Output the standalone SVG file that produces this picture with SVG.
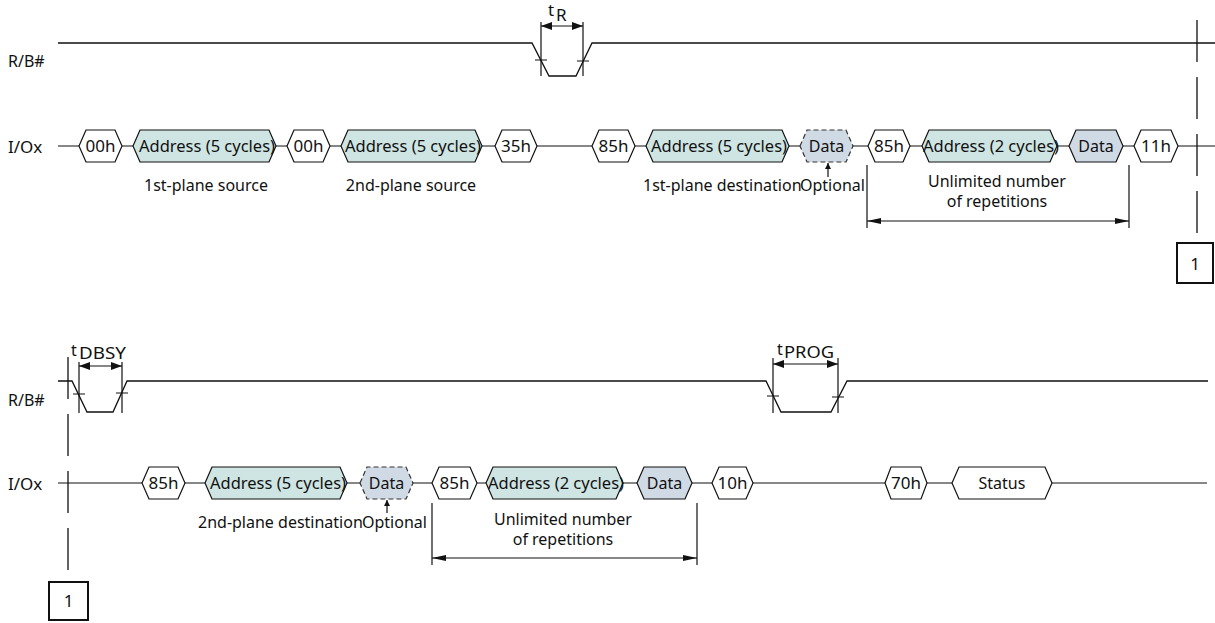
<svg xmlns="http://www.w3.org/2000/svg" width="1215" height="623" viewBox="0 0 1215 623">
<style>
  text{font-family:"Noto Sans","Open Sans","DejaVu Sans",sans-serif;font-size:16px;fill:#111}
  .c{text-anchor:middle}
  .h{font-size:17px}
  .a{font-size:16.5px}
  .w{stroke:#111;stroke-width:1.3;fill:none}
  .hx{stroke:#111;stroke-width:1.2;fill:#fff}
  .ad{stroke:#111;stroke-width:1.2;fill:#cfe5e3}
  .dt{stroke:#111;stroke-width:1.2;fill:#cfdae5}
  .dd{stroke:#333;stroke-width:1.2;fill:#cfdae5;stroke-dasharray:5 3}
  .ln{stroke:#111;stroke-width:1.2;fill:none}
  .dash{stroke:#111;stroke-width:1.3;fill:none;stroke-dasharray:42 15}
  .box{stroke:#111;stroke-width:2;fill:#fff}
</style>
<defs>
  <marker id="ta" viewBox="0 0 11 8" refX="11" refY="4" markerWidth="11" markerHeight="8" markerUnits="userSpaceOnUse" orient="auto-start-reverse"><path d="M0,0 L11,4 L0,8 z" fill="#111"/></marker>
  <marker id="ra" viewBox="0 0 14 6" refX="14" refY="3" markerWidth="14" markerHeight="6" markerUnits="userSpaceOnUse" orient="auto-start-reverse"><path d="M0,0 L14,3 L0,6 z" fill="#111"/></marker>
  <marker id="oa" viewBox="0 0 6 7" refX="6" refY="3" markerWidth="6" markerHeight="7" markerUnits="userSpaceOnUse" orient="auto"><path d="M0,0 L6,3 L0,6 z" fill="#111"/></marker>
</defs>

<!-- signal labels -->
<text x="8" y="67">R/B#</text>
<text x="8" y="153" class="h">I/Ox</text>
<text x="8" y="406">R/B#</text>
<text x="8" y="490" class="h">I/Ox</text>

<g id="connectors">
  <!-- waveforms -->
  <path class="w" d="M58,43 H532 L549,76 H576 L592,43 H1215"/>
  <path class="w" d="M58,381 H72 L87,412 H113 L127,381 H766 L781,412 H831 L847,381 H1208"/>
  <!-- top I/O bus segments -->
  <path class="ln" d="M58,146 H79 M122,146 H133 M276,146 H287 M330,146 H341 M482,146 H495 M537,146 H592 M635,146 H646 M789,146 H800 M853,146 H868 M910,146 H922 M1057,146 H1069 M1123,146 H1134 M1178,146 H1215"/>
  <!-- bottom I/O bus segments -->
  <path class="ln" d="M58,483 H142 M185,483 H205 M347,483 H360 M413,483 H432 M477,483 H486 M623,483 H637 M692,483 H712 M753,483 H885 M927,483 H952 M1052,483 H1207"/>
  <!-- tR -->
  <path class="ln" d="M541,22 V76 M583,22 V76 M535,60 H547 M577,61 H589"/>
  <line class="ln" x1="541" y1="26" x2="583" y2="26" marker-start="url(#ta)" marker-end="url(#ta)"/>
  <!-- tDBSY -->
  <path class="ln" d="M79,362 V413 M122,362 V413 M73,394 H85 M116,393 H128"/>
  <line class="ln" x1="79" y1="366" x2="122" y2="366" marker-start="url(#ta)" marker-end="url(#ta)"/>
  <!-- tPROG -->
  <path class="ln" d="M773,358 V413 M838,358 V413 M767,396 H779 M832,397 H844"/>
  <line class="ln" x1="773" y1="364" x2="838" y2="364" marker-start="url(#ta)" marker-end="url(#ta)"/>
  <!-- repetition brackets -->
  <path class="ln" d="M867,165 V228 M1129,165 V228"/>
  <line class="ln" x1="867" y1="221" x2="1129" y2="221" marker-start="url(#ra)" marker-end="url(#ra)"/>
  <path class="ln" d="M432,503 V565 M697,503 V565"/>
  <line class="ln" x1="432" y1="558" x2="697" y2="558" marker-start="url(#ra)" marker-end="url(#ra)"/>
  <!-- optional arrows -->
  <line class="ln" x1="828" y1="177" x2="828" y2="163" marker-end="url(#oa)"/>
  <line class="ln" x1="387" y1="513" x2="387" y2="500" marker-end="url(#oa)"/>
  <!-- page connectors -->
  <line class="dash" x1="1197" y1="20" x2="1197" y2="236"/>
  <line class="dash" x1="68" y1="357" x2="68" y2="573"/>
</g>

<!-- timing labels -->
<g id="tR"><text x="548" y="16" class="h">t</text><text x="556" y="21" class="h">R</text></g>
<g id="tDBSY"><text x="71" y="356">t</text><text x="79" y="359" textLength="47" lengthAdjust="spacingAndGlyphs" class="h">DBSY</text></g>
<g id="tPROG"><text x="777" y="355">t</text><text x="784" y="358" textLength="50" lengthAdjust="spacingAndGlyphs" class="h">PROG</text></g>

<!-- top row nodes -->
<g id="t00h1"><polygon class="hx" points="79,146 86,130 115,130 122,146 115,162 86,162"/><text class="c h" x="100.5" y="152">00h</text></g>
<g id="taddr1"><polygon class="ad" points="133,146 140,130 269,130 276,146 269,162 140,162"/><text class="c a" x="207" y="152">Address (5 cycles)</text></g>
<g id="t00h2"><polygon class="hx" points="287,146 294,130 323,130 330,146 323,162 294,162"/><text class="c h" x="308.5" y="152">00h</text></g>
<g id="taddr2"><polygon class="ad" points="341,146 348,130 475,130 482,146 475,162 348,162"/><text class="c a" x="413" y="152">Address (5 cycles)</text></g>
<g id="t35h"><polygon class="hx" points="495,146 502,130 530,130 537,146 530,162 502,162"/><text class="c h" x="516" y="152">35h</text></g>
<g id="t85h1"><polygon class="hx" points="592,146 599,130 628,130 635,146 628,162 599,162"/><text class="c h" x="613.5" y="152">85h</text></g>
<g id="taddr3"><polygon class="ad" points="646,146 653,130 782,130 789,146 782,162 653,162"/><text class="c a" x="719" y="152">Address (5 cycles)</text></g>
<g id="tdata1"><polygon class="dd" points="800,146 807,130 846,130 853,146 846,162 807,162"/><text class="c" x="826.5" y="152">Data</text></g>
<g id="t85h2"><polygon class="hx" points="868,146 875,130 903,130 910,146 903,162 875,162"/><text class="c h" x="889" y="152">85h</text></g>
<g id="taddr4"><polygon class="ad" points="922,146 929,130 1050,130 1057,146 1050,162 929,162"/><text class="c a" x="991" y="152">Address (2 cycles)</text></g>
<g id="tdata2"><polygon class="dt" points="1069,146 1076,130 1116,130 1123,146 1116,162 1076,162"/><text class="c" x="1096" y="152">Data</text></g>
<g id="t11h"><polygon class="hx" points="1134,146 1141,130 1171,130 1178,146 1171,162 1141,162"/><text class="c h" x="1156" y="152">11h</text></g>

<!-- top row annotations -->
<text class="c" x="206" y="191">1st-plane source</text>
<text class="c" x="411" y="191">2nd-plane source</text>
<text x="643" y="191">1st-plane destination</text>
<text x="800" y="191">Optional</text>
<text class="c" x="997" y="187">Unlimited number</text>
<text class="c" x="997" y="207">of repetitions</text>
<g id="box1top"><rect class="box" x="1177" y="243" width="36" height="40"/><text class="c h" x="1195" y="270">1</text></g>

<!-- bottom row nodes -->
<g id="b85h1"><polygon class="hx" points="142,483 149,467 178,467 185,483 178,499 149,499"/><text class="c h" x="163.5" y="489">85h</text></g>
<g id="baddr1"><polygon class="ad" points="205,483 212,467 340,467 347,483 340,499 212,499"/><text class="c a" x="278" y="489">Address (5 cycles)</text></g>
<g id="bdata1"><polygon class="dd" points="360,483 367,467 406,467 413,483 406,499 367,499"/><text class="c" x="386.5" y="489">Data</text></g>
<g id="b85h2"><polygon class="hx" points="432,483 439,467 470,467 477,483 470,499 439,499"/><text class="c h" x="454.5" y="489">85h</text></g>
<g id="baddr2"><polygon class="ad" points="486,483 493,467 616,467 623,483 616,499 493,499"/><text class="c a" x="556" y="489">Address (2 cycles)</text></g>
<g id="bdata2"><polygon class="dt" points="637,483 644,467 685,467 692,483 685,499 644,499"/><text class="c" x="664.5" y="489">Data</text></g>
<g id="b10h"><polygon class="hx" points="712,483 719,467 746,467 753,483 746,499 719,499"/><text class="c h" x="732.5" y="489">10h</text></g>
<g id="b70h"><polygon class="hx" points="885,483 891,467 921,467 927,483 921,499 891,499"/><text class="c h" x="906" y="489">70h</text></g>
<g id="bstatus"><polygon class="hx" points="952,483 959,467 1045,467 1052,483 1045,499 959,499"/><text class="c" x="1002" y="489">Status</text></g>

<!-- bottom row annotations -->
<text x="198" y="528">2nd-plane destination</text>
<text x="362" y="528">Optional</text>
<text class="c" x="563" y="525">Unlimited number</text>
<text class="c" x="563" y="545">of repetitions</text>
<g id="box1bottom"><rect class="box" x="49" y="582" width="39" height="38"/><text class="c h" x="68.5" y="607">1</text></g>
</svg>
